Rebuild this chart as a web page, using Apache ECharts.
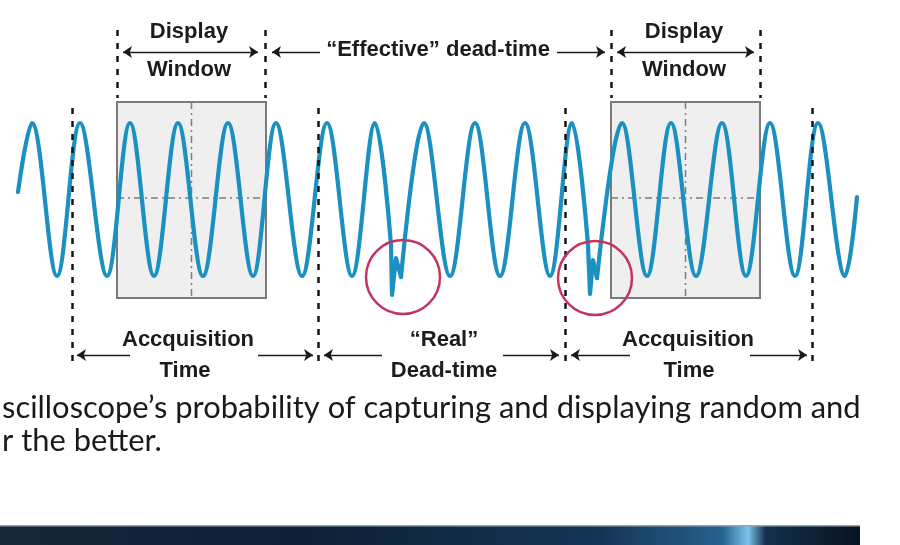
<!DOCTYPE html>
<html>
<head>
<meta charset="utf-8">
<script src="https://cdn.jsdelivr.net/npm/echarts@6/dist/echarts.min.js"></script>
<style>
  html, body { margin: 0; padding: 0; background: #fff; }
  #chart { width: 900px; height: 545px; }
</style>
</head>
<body>
<div id="chart"></div>
<script>
// 波形：极值点 (x, y)，单位为图上像素，毛刺单独画
const wave1X = [18, 32, 57, 80, 107, 130, 154, 178, 203, 228, 253, 276, 302, 327, 352, 375, 391];
const wave1Y = [192, 123, 276, 123, 276, 123, 276, 123, 276, 123, 276, 123, 276, 123, 276, 123, 245];
const wave2X = [401, 424, 450, 475, 500, 525, 550, 572, 588];
const wave2Y = [277, 123, 276, 123, 276, 123, 276, 123, 245];
const wave3X = [597, 622, 647, 671, 696, 722, 746, 770, 795, 818, 845, 857];
const wave3Y = [278, 123, 276, 123, 276, 123, 276, 123, 276, 123, 276, 197];

// 毛刺
const glitch1X = [391, 392, 396, 401];
const glitch1Y = [245, 295, 258, 277];
const glitch2X = [588, 590, 593, 597];
const glitch2Y = [245, 294, 260, 278];

// 显示窗口 [左, 右, 上, 下]
const displayBoxes = [[117, 266, 102, 298], [611, 760, 102, 298]];
const boxMidY = 198;

// 采集时间边界 (长虚线) 与显示窗口边界 (短虚线)
const acqBounds = [72, 318, 565, 812];
const acqTop = 108, acqBottom = 362;
const winBounds = [117, 265, 611, 760];
const winTop = 30, winBottom = 98;

// 红圈 (毛刺位置)
const circleX = [403, 595];
const circleY = [277, 278];

// 箭头：[起点x, 终点x(箭头), y]
const arrows = [
  [190, 123, 52], [190, 258, 52],
  [685, 617, 52], [685, 754, 52],
  [320, 272, 52], [557, 605, 52],
  [130, 77, 355], [258, 313, 355],
  [382, 324, 355], [503, 559, 355],
  [630, 571, 355], [750, 807, 355]
];

// 标签 [x, y, 文本]
const labels = [
  [189, 32, 'Display'], [189, 70, 'Window'],
  [684, 32, 'Display'], [684, 70, 'Window'],
  [438, 50, '\u201cEffective\u201d dead-time'],
  [188, 340, 'Accquisition'], [185, 371, 'Time'],
  [444, 340, '\u201cReal\u201d'], [444, 371, 'Dead-time'],
  [688, 340, 'Accquisition'], [689, 371, 'Time']
];

const bodyLines = [
  'scilloscope\u2019s probability of capturing and displaying random and',
  'r the better.'
];

const zip = (xs, ys) => xs.map((x, i) => [x, ys[i]]);

// 正文字号按宽度拟合
const bodyFont = 'Lato';
const ctx = document.createElement('canvas').getContext('2d');
ctx.font = '20px ' + bodyFont;
const bodySize = 20 * 860 / ctx.measureText(bodyLines[0]).width;

const chart = echarts.init(document.getElementById('chart'));

const waveLine = (xs, ys, smooth) => ({
  type: 'line',
  data: zip(xs, ys),
  smooth: smooth,
  symbol: 'none',
  z: 5,
  lineStyle: { color: '#1a91c0', width: 4.2, cap: 'round', join: 'round' }
});

const option = {
  animation: false,
  grid: { left: 0, right: 0, top: 0, bottom: 0 },
  xAxis: { type: 'value', min: 0, max: 900, show: false },
  yAxis: { type: 'value', min: 0, max: 545, inverse: true, show: false },
  graphic: [
    {
      type: 'text',
      left: 2, top: 393,
      style: { text: bodyLines[0], font: bodySize.toFixed(1) + 'px ' + bodyFont, fill: '#1a1a1a' }
    },
    {
      type: 'text',
      left: 2, top: 426,
      style: { text: bodyLines[1], font: bodySize.toFixed(1) + 'px ' + bodyFont, fill: '#1a1a1a' }
    },
    {
      type: 'rect',
      shape: { x: 0, y: 526, width: 860, height: 19 },
      style: {
        fill: new echarts.graphic.LinearGradient(0, 0, 1, 0, [
          { offset: 0, color: '#182639' },
          { offset: 0.35, color: '#0f2035' },
          { offset: 0.7, color: '#143556' },
          { offset: 0.84, color: '#25628f' },
          { offset: 0.87, color: '#7cc4ea' },
          { offset: 0.89, color: '#13304c' },
          { offset: 1, color: '#081220' }
        ])
      }
    },
    {
      type: 'rect',
      shape: { x: 0, y: 525, width: 860, height: 1.5 },
      style: { fill: '#9aa3ad' }
    }
  ],
  series: [
    {
      type: 'custom',
      data: displayBoxes,
      z: 1,
      renderItem: function (params, api) {
        const p0 = api.coord([api.value(0), api.value(2)]);
        const p1 = api.coord([api.value(1), api.value(3)]);
        const pm = api.coord([(api.value(0) + api.value(1)) / 2, boxMidY]);
        const dash = { stroke: '#7d7d7d', lineWidth: 1.5, lineDash: [7, 4, 2, 4] };
        return {
          type: 'group',
          children: [
            {
              type: 'rect',
              shape: { x: p0[0], y: p0[1], width: p1[0] - p0[0], height: p1[1] - p0[1] },
              style: { fill: '#efefef', stroke: '#7a7a7a', lineWidth: 2 }
            },
            {
              type: 'line',
              shape: { x1: pm[0], y1: p0[1], x2: pm[0], y2: p1[1] },
              style: dash
            },
            {
              type: 'line',
              shape: { x1: p0[0], y1: pm[1], x2: p1[0], y2: pm[1] },
              style: dash
            }
          ]
        };
      }
    },
    waveLine(wave1X, wave1Y, 0.36),
    waveLine(wave2X, wave2Y, 0.36),
    waveLine(wave3X, wave3Y, 0.36),
    waveLine(glitch1X, glitch1Y, false),
    waveLine(glitch2X, glitch2Y, false),
    {
      type: 'lines',
      coordinateSystem: 'cartesian2d',
      z: 6,
      symbol: 'none',
      lineStyle: { color: '#151515', width: 2.5, type: [6, 7], opacity: 1 },
      data: acqBounds.map(x => ({ coords: [[x, acqTop], [x, acqBottom]] }))
        .concat(winBounds.map(x => ({ coords: [[x, winTop], [x, winBottom]] })))
    },
    {
      type: 'lines',
      coordinateSystem: 'cartesian2d',
      z: 6,
      symbol: ['none', 'arrow'],
      symbolSize: 9,
      lineStyle: { color: '#1a1a1a', width: 1.3, opacity: 1 },
      data: arrows.map(a => ({ coords: [[a[0], a[2]], [a[1], a[2]]] }))
    },
    {
      type: 'scatter',
      z: 7,
      data: zip(circleX, circleY),
      symbolSize: 74,
      itemStyle: { color: 'rgba(0,0,0,0)', borderColor: '#c4345e', borderWidth: 2.5, opacity: 1 }
    },
    {
      type: 'scatter',
      z: 8,
      data: labels,
      symbolSize: 1,
      itemStyle: { color: 'rgba(0,0,0,0)', opacity: 1 },
      label: {
        show: true,
        position: 'inside',
        formatter: p => p.data[2],
        fontFamily: 'Liberation Sans',
        fontWeight: 'bold',
        fontSize: 22,
        color: '#1c1c1c',
        opacity: 1,
        textBorderWidth: 0
      }
    }
  ]
};

chart.setOption(option);
window.addEventListener('resize', () => chart.resize());
</script>
</body>
</html>
